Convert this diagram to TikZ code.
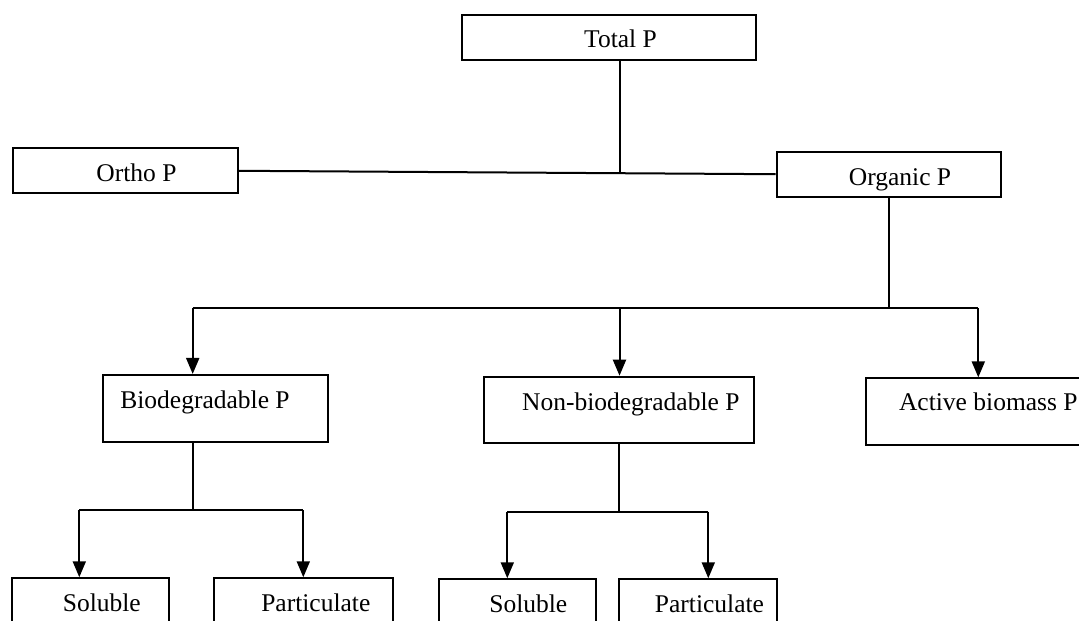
\documentclass[tikz,border=0pt]{standalone}
\usepackage{fontspec}
\setmainfont{Liberation Serif}
\usetikzlibrary{arrows.meta}

\begin{document}
\begin{tikzpicture}[x=1pt,y=-1pt,
  box/.style={draw=black,line width=2pt,inner sep=0pt,fill=white},
  lbl/.style={anchor=base,inner sep=0pt,font=\fontsize{25.5}{30}\selectfont},
  link/.style={draw=black,line width=2pt},
  arr/.style={link,-{Triangle[length=16pt,width=13pt]}}]
\useasboundingbox (0,0) rectangle (1079,621);
\clip (0,0) rectangle (1079,621);
\fill[white] (0,0) rectangle (1079,621);

% boxes
\node[box,minimum width=293.5pt,minimum height=45pt]  (total)   at (608.75,37.5) {};
\node[box,minimum width=225pt,minimum height=45pt]    (ortho)   at (125,170.8)   {};
\node[box,minimum width=224.6pt,minimum height=45pt]  (organic) at (889,174.2)   {};
\node[box,minimum width=225pt,minimum height=66.7pt]  (biodeg)  at (215.2,408.3) {};
\node[box,minimum width=270pt,minimum height=66.6pt]  (nonbio)  at (619,410)     {};
\node[box,minimum width=225pt,minimum height=66.7pt]  (active)  at (978.5,411.7) {};
\node[box,minimum width=157pt,minimum height=66.7pt]  (sol1)    at (90.8,611.6)  {};
\node[box,minimum width=179pt,minimum height=66.7pt]  (part1)   at (303.8,611.6) {};
\node[box,minimum width=156.7pt,minimum height=66.7pt](sol2)    at (517.3,612.6) {};
\node[box,minimum width=157.7pt,minimum height=66.7pt](part2)   at (697.8,612.6) {};

% labels
\node[lbl] (tTotal)   at (620.5,47.7)  {Total P};
\node[lbl] (tOrtho)   at (136.5,181.7) {Ortho P};
\node[lbl] (tOrganic) at (900,185.1)   {Organic P};
\node[lbl] (tBiodeg)  at (205,408.3)   {Biodegradable P};
\node[lbl] (tNonbio)  at (630.8,410)   {Non-biodegradable P};
\node[lbl] (tActive)  at (988.3,410.7) {Active biomass P};
\node[lbl] (tSol1)    at (101.8,611.7) {Soluble};
\node[lbl] (tPart1)   at (315.8,611.7) {Particulate};
\node[lbl] (tSol2)    at (528.3,612.7) {Soluble};
\node[lbl] (tPart2)   at (709.5,612.7) {Particulate};

% junction points
\coordinate (jTop)  at (620,172.5);
\coordinate (busL)  at (192.7,308);
\coordinate (busM)  at (619.5,308);
\coordinate (busR)  at (978.3,308);
\coordinate (busO)  at (889,308);
\coordinate (bL)    at (79.3,510);
\coordinate (bM)    at (192.7,510);
\coordinate (bR)    at (303.3,510);
\coordinate (nL)    at (507.3,511.7);
\coordinate (nM)    at (619,511.7);
\coordinate (nR)    at (708.3,511.7);

% top level
\draw[link] (jTop |- total.south) -- (jTop);
\draw[link] (ortho.east) -- (organic.west);

% organic split
\draw[link] (organic.south) -- (busO);
\draw[link] (busL) -- (busR);
\draw[arr] (busL) -- (busL |- biodeg.north);
\draw[arr] (busM) -- (busM |- nonbio.north);
\draw[arr] (busR) -- (busR |- active.north);

% biodegradable split
\draw[link] (bM |- biodeg.south) -- (bM);
\draw[link] (bL) -- (bR);
\draw[arr] (bL) -- (bL |- sol1.north);
\draw[arr] (bR) -- (bR |- part1.north);

% non-biodegradable split
\draw[link] (nonbio.south) -- (nM);
\draw[link] (nL) -- (nR);
\draw[arr] (nL) -- (nL |- sol2.north);
\draw[arr] (nR) -- (nR |- part2.north);
\end{tikzpicture}
\end{document}
